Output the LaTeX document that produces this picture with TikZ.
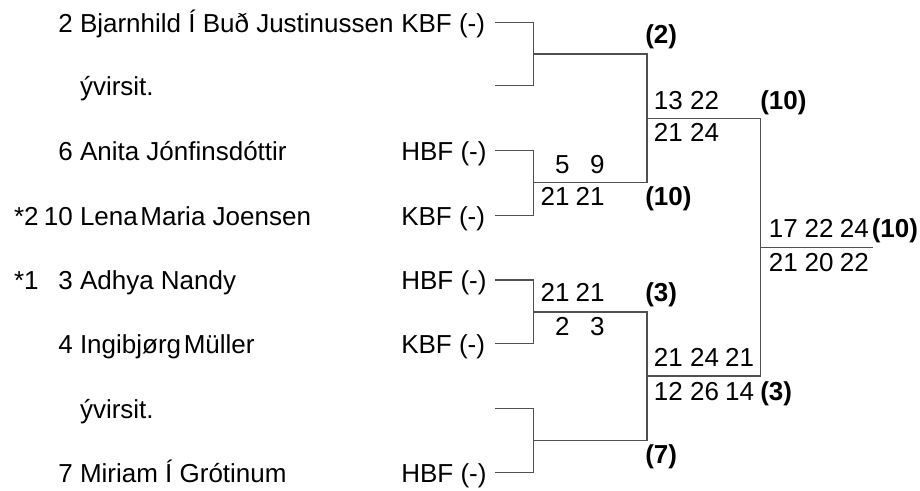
\documentclass[tikz,border=0pt]{standalone}
\usepackage{fontspec}
\setmainfont{Liberation Sans}
\definecolor{linegray}{RGB}{80,80,80}
\begin{document}
\begin{tikzpicture}[x=0.75pt,y=-0.75pt,
  txt/.style={inner sep=0pt, outer sep=0pt, font=\fontsize{19.5}{23}\selectfont},
  lbl/.style={txt, anchor=base west},
  num/.style={txt, anchor=base east},
  win/.style={inner sep=0pt, outer sep=0pt, anchor=base west, font=\fontsize{19.5}{23}\selectfont\bfseries},
  br/.style={draw=linegray, line width=0.8pt, line cap=butt, line join=miter}]
\useasboundingbox (0,0) rectangle (920,491);

% ---- players ----
\node[num] (n1) at (72.8,32.3) {2};
\node[lbl] (a1) at (80,32.3) {Bjarnhild Í Buð Justinussen};
\node[lbl] (k1) at (401.3,32.3) {KBF (-)};

\node[lbl] (a2) at (80,96) {ývirsit.};

\node[num] (n3) at (72.8,160.7) {6};
\node[lbl] (a3) at (80,160.7) {Anita Jónfinsdóttir};
\node[lbl] (k3) at (401.3,160.7) {HBF (-)};

\node[lbl] (s4) at (14,226) {*2};
\node[num] (n4) at (72.8,226) {10};
\node[lbl] (a4) at (80,226) {Lena\hspace{2pt}Maria Joensen};
\node[lbl] (k4) at (401.3,226) {KBF (-)};

\node[lbl] (s5) at (14,290) {*1};
\node[num] (n5) at (72.8,290) {3};
\node[lbl] (a5) at (80,290) {Adhya Nandy};
\node[lbl] (k5) at (401.3,290) {HBF (-)};

\node[num] (n6) at (72.8,353.5) {4};
\node[lbl] (a6) at (80,353.5) {Ingibjørg\hspace{2pt}Müller};
\node[lbl] (k6) at (401.3,353.5) {KBF (-)};

\node[lbl] (a7) at (80,418.3) {ývirsit.};

\node[num] (n8) at (72.8,482.3) {7};
\node[lbl] (a8) at (80,482.3) {Miriam Í Grótinum};
\node[lbl] (k8) at (401.3,482.3) {HBF (-)};

% ---- bracket coordinates ----
\coordinate (p1) at (495,22.3);  \coordinate (q1) at (533.3,22.3);
\coordinate (p2) at (495,85.7);  \coordinate (q2) at (533.3,85.7);
\coordinate (p3) at (495,150.7); \coordinate (q3) at (533.3,150.7);
\coordinate (p4) at (495,215.7); \coordinate (q4) at (533.3,215.7);
\coordinate (p5) at (495,280);   \coordinate (q5) at (533.3,280);
\coordinate (p6) at (495,343.3); \coordinate (q6) at (533.3,343.3);
\coordinate (p7) at (495,408.3); \coordinate (q7) at (533.3,408.3);
\coordinate (p8) at (495,472.3); \coordinate (q8) at (533.3,472.3);

\coordinate (m1) at (533.3,54);    \coordinate (m1e) at (647,54);
\coordinate (m2) at (533.3,182.5); \coordinate (m2e) at (647,182.5);
\coordinate (m3) at (533.3,312);   \coordinate (m3e) at (647,312);
\coordinate (m4) at (533.3,440.3); \coordinate (m4e) at (647,440.3);

\coordinate (u1) at (647,118.3);   \coordinate (u1e) at (760.8,118.3);
\coordinate (u2) at (647,376);     \coordinate (u2e) at (760.8,376);

\coordinate (f) at (760.8,247.3);  \coordinate (fe) at (872.7,247.3);

% ---- connectors ----
\draw[br] (p1) -- (q1) -- (q2) -- (p2);
\draw[br] (p3) -- (q3) -- (q4) -- (p4);
\draw[br] (p5) -- (q5) -- (q6) -- (p6);
\draw[br] (p7) -- (q7) -- (q8) -- (p8);

\draw[br] (m1) -- (m1e) -- (m2e) -- (m2);
\draw[br] (m3) -- (m3e) -- (m4e) -- (m4);

\draw[br] (u1) -- (u1e) -- (u2e) -- (u2);
\draw[br] (f) -- (fe);

% ---- round 1 scores ----
\node[win] (w1) at (645.3,44) {(2)};

\node[num] (r2a1) at (569.5,174) {5};
\node[num] (r2a2) at (604.5,174) {9};
\node[num] (r2b1) at (569.5,205.5) {21};
\node[num] (r2b2) at (604.5,205.5) {21};
\node[win] (w2) at (645.3,205.5) {(10)};

\node[num] (r3a1) at (569.5,302) {21};
\node[num] (r3a2) at (604.5,302) {21};
\node[num] (r3b1) at (569.5,335) {2};
\node[num] (r3b2) at (604.5,335) {3};
\node[win] (w3) at (645.3,302) {(3)};

\node[win] (w4) at (645.3,463) {(7)};

% ---- round 2 scores ----
\node[num] (s1a1) at (682.8,110) {13};
\node[num] (s1a2) at (719,110) {22};
\node[num] (s1b1) at (682.8,141.7) {21};
\node[num] (s1b2) at (719,141.7) {24};
\node[win] (v1) at (760.3,110) {(10)};

\node[num] (s2a1) at (682.8,366) {21};
\node[num] (s2a2) at (719,366) {24};
\node[num] (s2a3) at (754,366) {21};
\node[num] (s2b1) at (682.8,400) {12};
\node[num] (s2b2) at (719,400) {26};
\node[num] (s2b3) at (754,400) {14};
\node[win] (v2) at (760.3,400) {(3)};

% ---- final ----
\node[num] (fa1) at (797.8,237.5) {17};
\node[num] (fa2) at (833.5,237.5) {22};
\node[num] (fa3) at (868.9,237.5) {24};
\node[win] (fw) at (871.8,237.5) {(10)};
\node[num] (fb1) at (797.8,272) {21};
\node[num] (fb2) at (833.5,272) {20};
\node[num] (fb3) at (868.9,272) {22};
\end{tikzpicture}
\end{document}
